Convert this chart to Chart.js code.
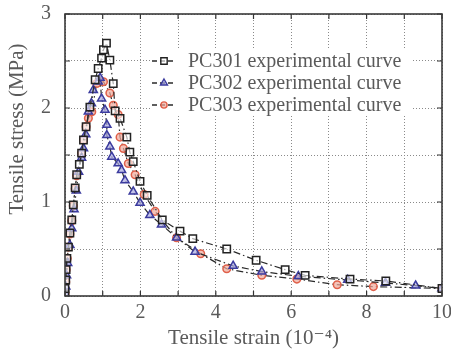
<!DOCTYPE html>
<html>
<head>
<meta charset="utf-8">
<script src="https://cdn.jsdelivr.net/npm/chart.js@4.4.1/dist/chart.umd.min.js"></script>
<style>
  html, body { margin: 0; padding: 0; background: #fff; }
  #wrap { width: 451px; height: 353px; }
</style>
</head>
<body>
<div id="wrap"><canvas id="stressChart" width="451" height="353"></canvas></div>
<script>
// values (strain in 1e-4, stress in MPa)
var seriesNames = ['PC301 experimental curve', 'PC302 experimental curve', 'PC303 experimental curve'];

var strain301 = [0, 0, 0.02, 0.03, 0.05, 0.09, 0.13, 0.18, 0.22, 0.27, 0.31, 0.38, 0.44, 0.49, 0.56, 0.66, 0.80, 0.88, 0.97, 1.02, 1.10,
    1.19, 1.28, 1.33, 1.46, 1.64, 1.72, 1.81, 1.99, 2.18, 2.58, 3.05, 3.39, 4.29, 5.07, 5.84, 6.37, 7.56, 8.51, 10];
var stress301 = [0.02, 0.08, 0.17, 0.28, 0.40, 0.52, 0.67, 0.81, 0.97, 1.15, 1.29, 1.40, 1.52, 1.66, 1.80, 2.01, 2.30, 2.42, 2.53, 2.62, 2.69,
    2.51, 2.26, 1.97, 1.89, 1.69, 1.53, 1.43, 1.22, 1.07, 0.81, 0.69, 0.61, 0.50, 0.38, 0.28, 0.22, 0.18, 0.16, 0.08];

var strain302 = [0, 0.02, 0.04, 0.07, 0.13, 0.18, 0.24, 0.30, 0.36, 0.44, 0.49, 0.55, 0.62, 0.70, 0.75, 0.88, 0.93,
    0.97, 1.06, 1.11, 1.11, 1.19, 1.24, 1.41, 1.50, 1.59, 1.81, 1.99, 2.25, 2.56, 2.96, 3.45, 4.46, 5.22, 6.19, 7.50, 8.50, 9.30, 10];
var stress302 = [0.02, 0.10, 0.22, 0.35, 0.54, 0.72, 0.92, 1.12, 1.32, 1.47, 1.57, 1.72, 1.96, 2.05, 2.19, 2.28, 2.32,
    2.10, 1.98, 1.82, 1.71, 1.59, 1.48, 1.41, 1.34, 1.23, 1.11, 0.99, 0.86, 0.76, 0.62, 0.47, 0.32, 0.26, 0.21, 0.17, 0.14, 0.11, 0.08];

var strain303 = [0, 0.02, 0.03, 0.06, 0.09, 0.13, 0.18, 0.22, 0.27, 0.31, 0.44, 0.49, 0.56, 0.62, 0.71, 0.84, 1.02,
    1.19, 1.28, 1.41, 1.46, 1.55, 1.68, 1.86, 2.10, 2.39, 2.96, 3.60, 4.29, 5.22, 6.15, 7.22, 8.18, 10];
var stress303 = [0.03, 0.15, 0.28, 0.40, 0.52, 0.66, 0.80, 0.96, 1.14, 1.28, 1.52, 1.66, 1.80, 1.89, 1.96, 2.26, 2.28,
    2.16, 2.03, 1.93, 1.69, 1.57, 1.41, 1.29, 1.08, 0.90, 0.62, 0.45, 0.29, 0.22, 0.18, 0.12, 0.10, 0.08];

var xTickLabels = [0, 2, 4, 6, 8, 10];
var yTickLabels = [0, 1, 2, 3];
var xTitle = 'Tensile strain (10\u207B\u2074)';
var yTitle = 'Tensile stress (MPa)';

function zip(xs, ys) {
    return xs.map(function (x, i) { return { x: x, y: ys[i] }; });
}

var serif = '"Liberation Serif", "DejaVu Serif", serif';
var textGray = '#5a5a5a';
var lineDark = '#2a2a2a';

var styles = [
    { pointStyle: 'rect', radius: 5.2, border: '#222222', fill: 'rgba(255,255,255,0.6)' },
    { pointStyle: 'triangle', radius: 4.7, border: '#3b3b9e', fill: 'rgba(170,170,225,0.7)' },
    { pointStyle: 'circle', radius: 3.8, border: '#e0604a', fill: 'rgba(240,170,155,0.7)' }
];

var allData = [zip(strain301, stress301), zip(strain302, stress302), zip(strain303, stress303)];

var datasets = allData.map(function (d, i) {
    return {
        label: seriesNames[i],
        data: d,
        borderColor: lineDark,
        borderWidth: 1.2,
        borderDash: [7, 3, 1.5, 3],
        fill: false,
        tension: 0,
        pointStyle: styles[i].pointStyle,
        pointRadius: styles[i].radius,
        pointBorderWidth: 1.5,
        pointBorderColor: styles[i].border,
        pointBackgroundColor: styles[i].fill
    };
});

// frame, inward ticks, y title and legend box drawn on top of the chart area
var decorPlugin = {
    id: 'decor',
    afterDraw: function (chart) {
        var ctx = chart.ctx;
        var a = chart.chartArea;
        var xs = chart.scales.x, ys = chart.scales.y;
        ctx.save();

        // inward tick marks
        ctx.strokeStyle = '#333';
        ctx.lineWidth = 1.2;
        ctx.beginPath();
        for (var v = 0; v <= 10; v++) {
            var px = xs.getPixelForValue(v);
            ctx.moveTo(px, a.bottom); ctx.lineTo(px, a.bottom - 5);
            ctx.moveTo(px, a.top); ctx.lineTo(px, a.top + 5);
        }
        for (var w = 0; w <= 3; w += 0.5) {
            var py = ys.getPixelForValue(w);
            ctx.moveTo(a.left, py); ctx.lineTo(a.left + 5, py);
            ctx.moveTo(a.right, py); ctx.lineTo(a.right - 5, py);
        }
        ctx.stroke();

        // frame
        ctx.lineWidth = 1.6;
        ctx.strokeStyle = '#3a3a3a';
        ctx.strokeRect(a.left, a.top, a.right - a.left, a.bottom - a.top);

        // y axis title
        ctx.fillStyle = textGray;
        ctx.font = '21px ' + serif;
        ctx.textAlign = 'center';
        ctx.textBaseline = 'middle';
        ctx.translate(17, 129);
        ctx.rotate(-Math.PI / 2);
        ctx.fillText(yTitle, 0, 0);
        ctx.restore();

        // legend
        ctx.save();
        ctx.fillStyle = '#fff';
        ctx.fillRect(150, 49, 262, 66);
        var rows = [61, 83, 105];
        ctx.font = '20px ' + serif;
        ctx.textBaseline = 'middle';
        ctx.textAlign = 'left';
        chart.data.datasets.forEach(function (ds, i) {
            var y = rows[i];
            ctx.save();
            ctx.strokeStyle = lineDark;
            ctx.lineWidth = 1.6;
            ctx.setLineDash([5, 3]);
            ctx.beginPath();
            ctx.moveTo(152, y); ctx.lineTo(176, y);
            ctx.stroke();
            ctx.restore();
            ctx.save();
            ctx.fillStyle = ds.pointBackgroundColor;
            ctx.strokeStyle = ds.pointBorderColor;
            ctx.lineWidth = 1.4;
            Chart.helpers.drawPoint(ctx, { pointStyle: ds.pointStyle, radius: ds.pointRadius - 0.7, borderWidth: 1.4 }, 164, y);
            ctx.restore();
            ctx.fillStyle = textGray;
            ctx.fillText(ds.label, 188, y + 1);
        });
        ctx.restore();
    }
};

var ctx = document.getElementById('stressChart').getContext('2d');
var stressChart = new Chart(ctx, {
    type: 'line',
    data: { datasets: datasets },
    options: {
        responsive: false,
        animation: false,
        layout: { padding: { left: 0, right: 9, top: 14, bottom: 2 } },
        plugins: {
            legend: { display: false },
            tooltip: { enabled: false }
        },
        scales: {
            x: {
                type: 'linear',
                min: 0,
                max: 10,
                afterFit: function (scale) {
                    scale.height = 55;
                    scale.paddingLeft = 0;
                    scale.paddingRight = 0;
                },
                ticks: {
                    stepSize: 1,
                    padding: 5,
                    color: textGray,
                    font: { family: serif, size: 20 },
                    maxRotation: 0,
                    callback: function (value) {
                        return xTickLabels.indexOf(value) >= 0 ? String(value) : '';
                    }
                },
                grid: { color: '#8a8a8a', lineWidth: 1, drawTicks: false },
                border: { display: false, dash: [1, 2] },
                title: {
                    display: true,
                    text: xTitle,
                    color: textGray,
                    font: { family: serif, size: 21 },
                    padding: { top: 0, bottom: 0 }
                }
            },
            y: {
                type: 'linear',
                min: 0,
                max: 3,
                afterFit: function (scale) {
                    scale.width = 65;
                    scale.paddingTop = 0;
                    scale.paddingBottom = 0;
                },
                ticks: {
                    stepSize: 0.5,
                    padding: 14,
                    color: textGray,
                    font: { family: serif, size: 20 },
                    callback: function (value) {
                        return yTickLabels.indexOf(value) >= 0 ? String(value) : '';
                    }
                },
                grid: { color: '#8a8a8a', lineWidth: 1, drawTicks: false },
                border: { display: false, dash: [1, 2] }
            }
        }
    },
    plugins: [decorPlugin]
});
</script>
</body>
</html>
